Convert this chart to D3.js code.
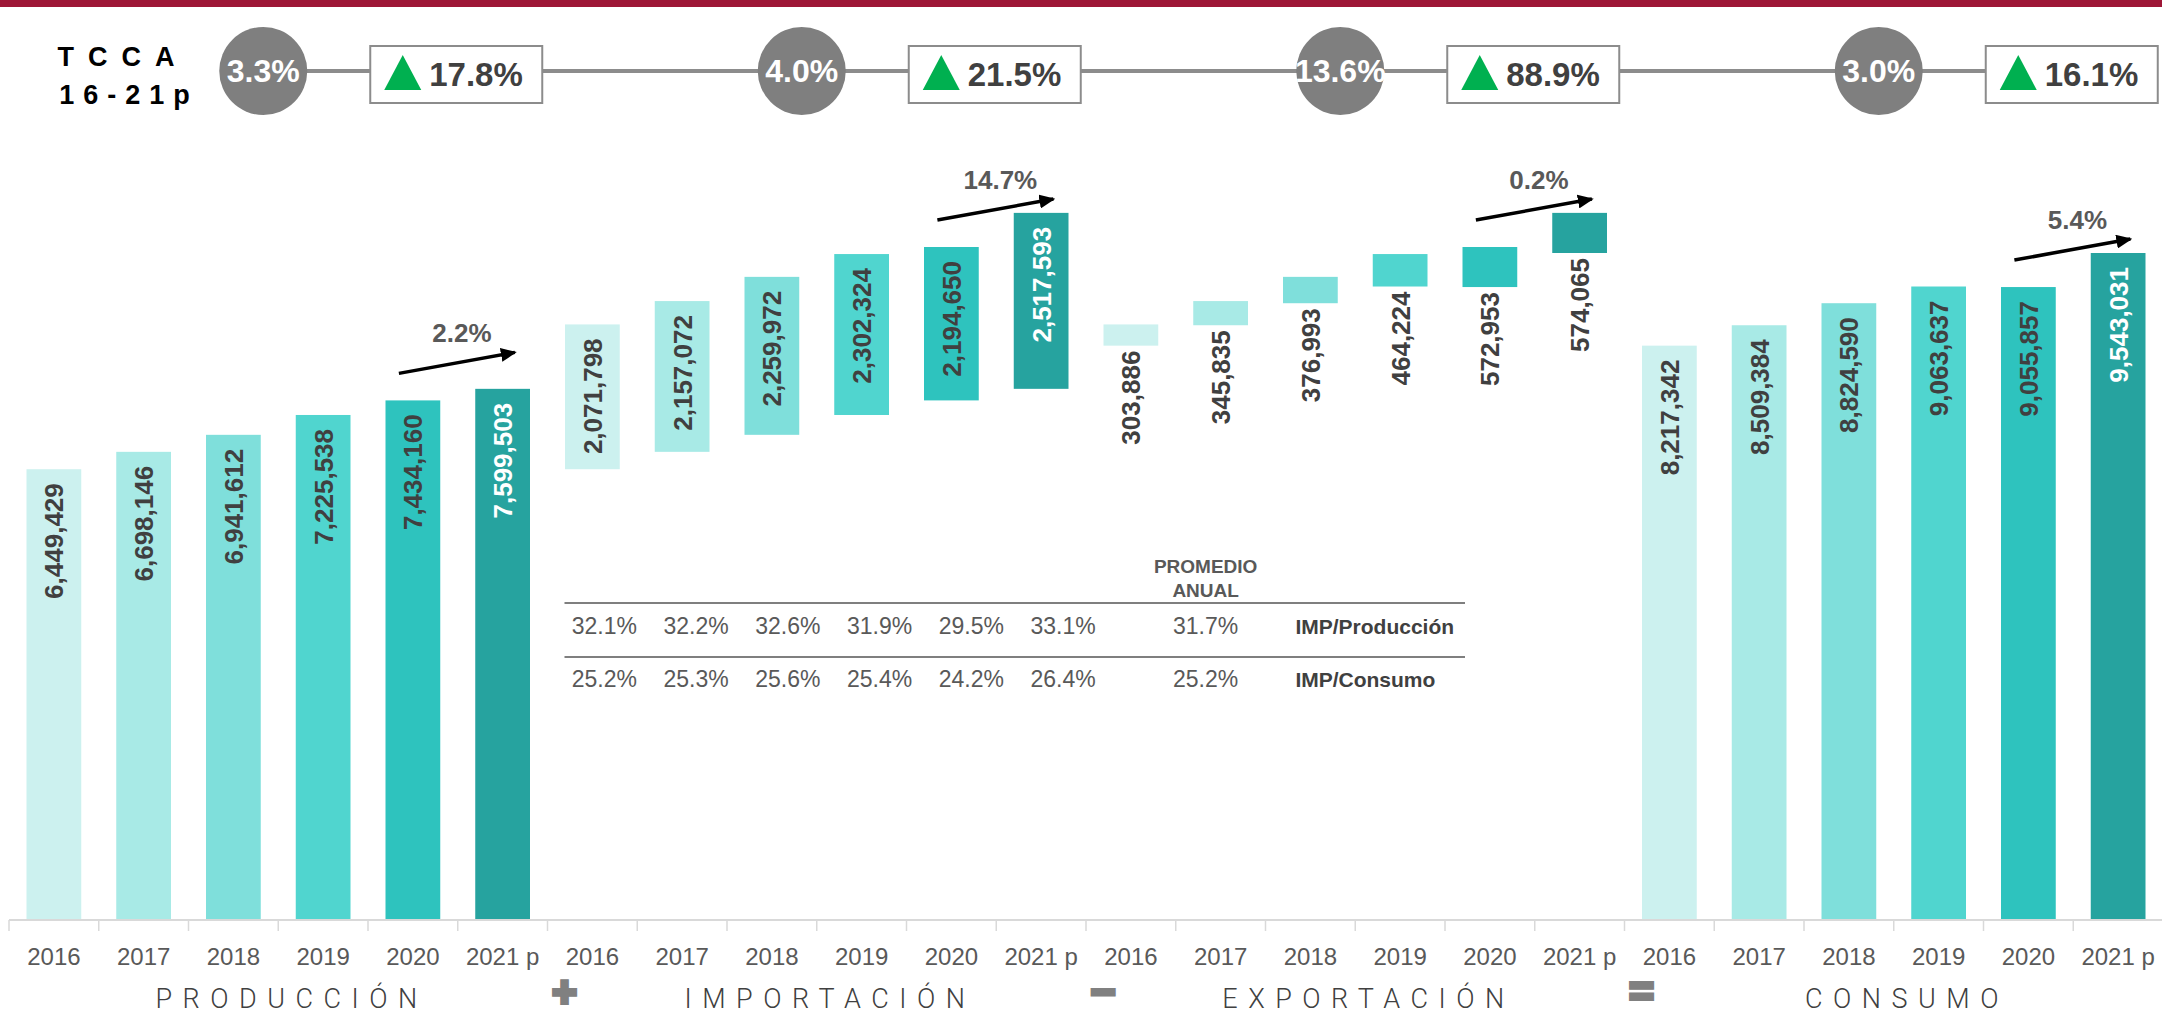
<!DOCTYPE html>
<html>
<head>
<meta charset="utf-8">
<script src="https://cdn.jsdelivr.net/npm/d3@7"></script>
<style>
  html, body { margin: 0; padding: 0; background: #ffffff; }
  svg { display: block; font-family: "Liberation Sans", Arial, sans-serif; }
</style>
</head>
<body>
<svg id="chart" width="2162" height="1016"></svg>
<script>
// ---------------- DATA ----------------
const years = ["2016", "2017", "2018", "2019", "2020", "2021 p"];
const groups = ["PRODUCCIÓN", "IMPORTACIÓN", "EXPORTACIÓN", "CONSUMO"];
const operators = ["+", "−", "="];

const produccion  = [6449429, 6698146, 6941612, 7225538, 7434160, 7599503];
const importacion = [2071798, 2157072, 2259972, 2302324, 2194650, 2517593];
const exportacion = [303886, 345835, 376993, 464224, 572953, 574065];
const consumo     = [8217342, 8509384, 8824590, 9063637, 9055857, 9543031];

const tccaLabels   = ["3.3%", "4.0%", "13.6%", "3.0%"];
const cambioLabels = ["17.8%", "21.5%", "88.9%", "16.1%"];
const anualLabels  = ["2.2%", "14.7%", "0.2%", "5.4%"];

const impProduccion = ["32.1%", "32.2%", "32.6%", "31.9%", "29.5%", "33.1%"];
const impConsumo    = ["25.2%", "25.3%", "25.6%", "25.4%", "24.2%", "26.4%"];
const promedios     = ["31.7%", "25.2%"];
const filaLabels    = ["IMP/Producción", "IMP/Consumo"];
const promedioTitle = ["PROMEDIO", "ANUAL"];
const tccaTitle     = ["TCCA", "16-21p"];

const yearColors = ["#CCF1EF", "#A8EAE6", "#7FDFDB", "#50D5CF", "#2EC3BE", "#26A39F"];

// ---------------- BUILD ----------------
const W = 2162, H = 1016;
const svg = d3.select("#chart");

const bars = [];
groups.forEach((g, gi) => {
  years.forEach((yr, i) => {
    let y0, y1, v;
    if (gi === 0) { y0 = 0; y1 = produccion[i]; v = produccion[i]; }
    else if (gi === 1) { y0 = produccion[i]; y1 = produccion[i] + importacion[i]; v = importacion[i]; }
    else if (gi === 2) { y1 = produccion[i] + importacion[i]; y0 = y1 - exportacion[i]; v = exportacion[i]; }
    else { y0 = 0; y1 = consumo[i]; v = consumo[i]; }
    bars.push({ key: g + "|" + yr, g: gi, i, yr, y0, y1, v });
  });
});

const x = d3.scaleBand().domain(bars.map(d => d.key)).range([9, 2163])
  .paddingInner(0.39).paddingOuter(0.195);
const y = d3.scaleLinear().domain([0, d3.max(consumo)]).range([920, 253]);
const bw = x.bandwidth();
const gap = (x.step() - bw) / 2;
const key = (gi, i) => groups[gi] + "|" + years[i];
const cx = k => x(k) + bw / 2;
const groupCenter = gi => (cx(key(gi, 0)) + cx(key(gi, 5))) / 2;
const bandLeft = k => x(k) - gap;

// top red band
svg.append("rect").attr("x", 0).attr("y", 0).attr("width", W).attr("height", 7).attr("fill", "#9E1637");

// ---------- header (TCCA) ----------
const hdr = svg.append("g");
hdr.append("text").attr("x", 116 + 7).attr("y", 66).attr("text-anchor", "middle")
  .attr("font-size", 27).attr("font-weight", "bold").attr("letter-spacing", 14).attr("fill", "#000")
  .text(tccaTitle[0]);
hdr.append("text").attr("x", 124 + 5).attr("y", 104).attr("text-anchor", "middle")
  .attr("font-size", 27).attr("font-weight", "bold").attr("letter-spacing", 9).attr("fill", "#000")
  .text(tccaTitle[1]);

const circOff = -15, boxOff = 178, hdrY = 71;
hdr.append("line")
  .attr("x1", groupCenter(0) + circOff).attr("x2", groupCenter(3) + boxOff)
  .attr("y1", hdrY).attr("y2", hdrY).attr("stroke", "#8c8c8c").attr("stroke-width", 4);

groups.forEach((g, gi) => {
  const c = groupCenter(gi);
  hdr.append("circle").attr("cx", c + circOff).attr("cy", hdrY).attr("r", 44).attr("fill", "#7f7f7f");
  hdr.append("text").attr("x", c + circOff).attr("y", hdrY + 11).attr("text-anchor", "middle")
    .attr("font-size", 32).attr("font-weight", "bold").attr("fill", "#ffffff").text(tccaLabels[gi]);
  const bx = c + boxOff - 86;
  hdr.append("rect").attr("x", bx).attr("y", 46).attr("width", 172).attr("height", 57)
    .attr("fill", "#ffffff").attr("stroke", "#8c8c8c").attr("stroke-width", 2);
  hdr.append("path")
    .attr("d", `M${bx + 14},90 L${bx + 32.5},55 L${bx + 51},90 Z`).attr("fill", "#00B050");
  hdr.append("text").attr("x", bx + 59).attr("y", 86).attr("text-anchor", "start")
    .attr("font-size", 33).attr("font-weight", "bold").attr("fill", "#404040").text(cambioLabels[gi]);
});

// ---------- bars ----------
svg.append("g").selectAll("rect").data(bars).join("rect")
  .attr("x", d => x(d.key)).attr("width", bw)
  .attr("y", d => y(d.y1)).attr("height", d => y(d.y0) - y(d.y1))
  .attr("fill", d => yearColors[d.i]);

const fmt = d3.format(",");
svg.append("g").selectAll("text").data(bars).join("text")
  .attr("transform", d => {
    const ty = d.g === 2 ? y(d.y0) + 5 : y(d.y1) + 14;
    return `translate(${cx(d.key)},${ty}) rotate(-90)`;
  })
  .attr("dy", "0.36em").attr("text-anchor", "end")
  .attr("font-size", 26).attr("font-weight", "bold")
  .attr("fill", d => (d.i === 5 && d.g !== 2) ? "#ffffff" : "#404040")
  .text(d => fmt(d.v));

// ---------- growth arrows ----------
svg.append("defs").append("marker")
  .attr("id", "ah").attr("markerUnits", "userSpaceOnUse")
  .attr("viewBox", "0 0 16 14").attr("refX", 14).attr("refY", 7)
  .attr("markerWidth", 16).attr("markerHeight", 14).attr("orient", "auto")
  .append("path").attr("d", "M0,0 L16,7 L0,14 Z").attr("fill", "#000");

const arrows = groups.map((g, gi) => {
  const b20 = bars.find(d => d.key === key(gi, 4));
  const sx = cx(b20.key) - 14, sy = y(b20.y1) - 27;
  return { sx, sy, ex: sx + 116, ey: sy - 21, label: anualLabels[gi] };
});
const ar = svg.append("g");
arrows.forEach(a => {
  ar.append("line").attr("x1", a.sx).attr("y1", a.sy).attr("x2", a.ex).attr("y2", a.ey)
    .attr("stroke", "#000").attr("stroke-width", 3.5).attr("marker-end", "url(#ah)");
  ar.append("text").attr("x", (a.sx + a.ex) / 2 + 5).attr("y", (a.sy + a.ey) / 2 - 21)
    .attr("text-anchor", "middle").attr("font-size", 26).attr("font-weight", "bold")
    .attr("fill", "#595959").text(a.label);
});

// ---------- axis ----------
const axisG = svg.append("g").attr("transform", "translate(0,920)")
  .call(d3.axisBottom(x).tickSize(0).tickPadding(28).tickFormat(k => k.split("|")[1]));
axisG.select(".domain").remove();
axisG.selectAll("text").attr("font-size", 24).attr("fill", "#595959")
  .attr("font-family", "'Liberation Sans', Arial, sans-serif");

svg.append("line").attr("x1", x.range()[0]).attr("x2", x.range()[1]).attr("y1", 920).attr("y2", 920)
  .attr("stroke", "#d9d9d9").attr("stroke-width", 2);
const edges = x.domain().map(k => bandLeft(k)).concat([x.range()[1]]);
svg.append("g").selectAll("line").data(edges).join("line")
  .attr("x1", d => d).attr("x2", d => d).attr("y1", 920).attr("y2", 931)
  .attr("stroke", "#d9d9d9").attr("stroke-width", 1.5);

// group titles
const ls = 10.5;
svg.append("g").selectAll("text").data(groups).join("text")
  .attr("x", (d, gi) => groupCenter(gi) + 8 + ls / 2).attr("y", 1008)
  .attr("text-anchor", "middle").attr("font-family", "Roboto, 'Liberation Sans', sans-serif")
  .attr("font-weight", 300).attr("font-size", 27).attr("letter-spacing", ls).attr("fill", "#404040")
  .text(d => d);

// operators
svg.append("g").selectAll("text").data(operators).join("text")
  .attr("x", (d, oi) => bandLeft(key(oi + 1, 0)) + 17).attr("y", 1006)
  .attr("text-anchor", "middle").attr("font-size", 42).attr("font-weight", "bold")
  .attr("fill", "#808080").attr("stroke", "#808080").attr("stroke-width", 4)
  .text(d => d);

// ---------- ratio table ----------
const tbl = svg.append("g");
const colX = i => cx(key(1, i)) + 12 + i * 2;
const promX = cx(key(2, 1)) - 15;
const labX = cx(key(2, 2)) - 15;
const lx1 = bandLeft(key(1, 0)) + 17, lx2 = bandLeft(key(2, 4)) + 20;
[603, 657].forEach(ly => tbl.append("line").attr("x1", lx1).attr("x2", lx2).attr("y1", ly).attr("y2", ly)
  .attr("stroke", "#7f7f7f").attr("stroke-width", 2));
promedioTitle.forEach((t, ti) => tbl.append("text").attr("x", promX).attr("y", 573 + ti * 24)
  .attr("text-anchor", "middle").attr("font-size", 19).attr("font-weight", "bold").attr("fill", "#595959").text(t));
[impProduccion, impConsumo].forEach((row, ri) => {
  const by = 634 + ri * 53;
  row.forEach((v, i) => tbl.append("text").attr("x", colX(i)).attr("y", by).attr("text-anchor", "middle")
    .attr("font-size", 23).attr("fill", "#595959").text(v));
  tbl.append("text").attr("x", promX).attr("y", by).attr("text-anchor", "middle")
    .attr("font-size", 23).attr("fill", "#595959").text(promedios[ri]);
  tbl.append("text").attr("x", labX).attr("y", by).attr("text-anchor", "start")
    .attr("font-size", 21).attr("font-weight", "bold").attr("fill", "#404040").text(filaLabels[ri]);
});
</script>
</body>
</html>
